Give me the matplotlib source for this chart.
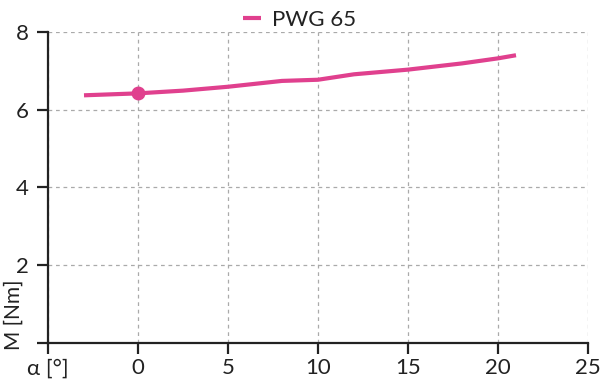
import matplotlib

matplotlib.use("Agg")
import matplotlib.pyplot as plt

# data
alpha = [-3, 0, 2.5, 5, 8, 10, 12, 15, 18, 20, 21]
torque = [6.37, 6.42, 6.49, 6.59, 6.74, 6.77, 6.91, 7.03, 7.19, 7.32, 7.40]
marker_x = [0]
marker_y = [6.43]

x_ticks = [-5, 0, 5, 10, 15, 20, 25]
x_labels = ["α [°]", "0", "5", "10", "15", "20", "25"]
y_ticks = [0, 2, 4, 6, 8]
y_labels = ["", "2", "4", "6", "8"]

PINK = "#e0408e"
INK = "#222222"

plt.rcParams["font.family"] = ["Lato", "DejaVu Sans"]

fig = plt.figure(figsize=(6, 3.89), dpi=100)
ax = fig.add_axes([0.08, 0.118, 0.90, 0.800])

ax.plot(alpha, torque, color=PINK, linewidth=3, label="PWG 65", solid_capstyle="butt")
ax.plot(marker_x, marker_y, "o", color=PINK, markersize=9)

ax.set_xlim(-5, 25)
ax.set_ylim(0, 8)
ax.set_xticks(x_ticks)
ax.set_xticklabels(x_labels)
ax.set_yticks(y_ticks)
ax.set_yticklabels(y_labels)

ax.grid(True, color="#aaaaaa", linestyle=(0, (3, 3)), linewidth=0.9)
ax.set_axisbelow(True)
ax.spines[["top", "right"]].set_visible(False)
for s in ("left", "bottom"):
    ax.spines[s].set_color(INK)
    ax.spines[s].set_linewidth(1.6)
ax.tick_params(axis="both", colors=INK, labelsize=16, length=8, width=1.6, direction="out")
ax.tick_params(axis="x", pad=3)
ax.tick_params(axis="y", pad=6)

fig.text(0.022, 0.19, "M [Nm]", rotation=90, fontsize=15, color=INK, ha="center", va="center")

fig.legend(loc="upper center", bbox_to_anchor=(0.5, 1.025), frameon=False, fontsize=16,
           handlelength=0.8, handletextpad=0.5, labelcolor=INK)

fig.savefig("out.png", dpi=100)
